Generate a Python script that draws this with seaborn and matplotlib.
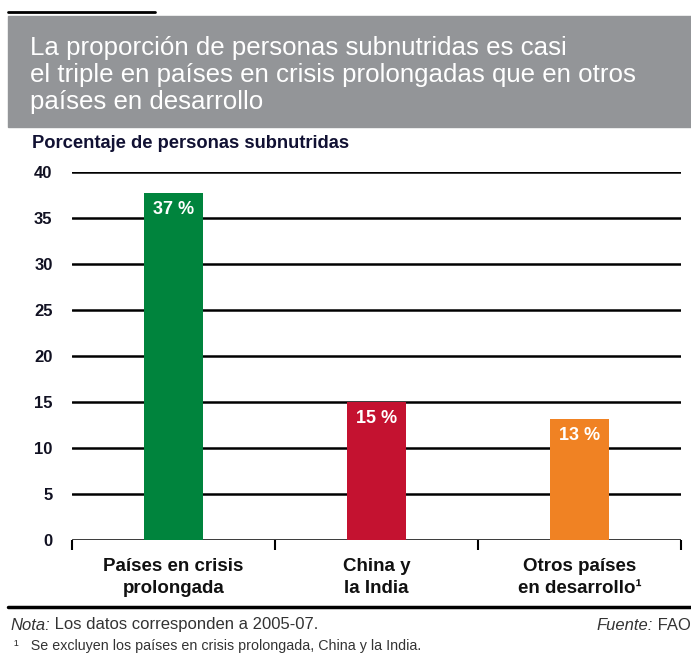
import matplotlib
matplotlib.use("Agg")
import matplotlib.pyplot as plt
from matplotlib import font_manager
import seaborn as sns
import pandas as pd

categories = ["Países en crisis\nprolongada", "China y\nla India", "Otros países\nen desarrollo¹"]
values = [37.7, 15.0, 13.2]
value_labels = ["37 %", "15 %", "13 %"]
colors = ["#00843D", "#C41230", "#F08223"]
yticks = [0, 5, 10, 15, 20, 25, 30, 35, 40]

title = ("La proporción de personas subnutridas es casi\n"
         "el triple en países en crisis prolongadas que en otros\n"
         "países en desarrollo")
ylabel = "Porcentaje de personas subnutridas"
note_label = "Nota:"
note_text = " Los datos corresponden a 2005-07."
source_label = "Fuente:"
source_text = " FAO"
footnote = "¹   Se excluyen los países en crisis prolongada, China y la India."

sns.set_theme(style="white")
names = {f.name for f in font_manager.fontManager.ttflist}
FONT = "Liberation Sans Narrow" if "Liberation Sans Narrow" in names else "Liberation Sans"
plt.rcParams["font.family"] = [FONT, "DejaVu Sans"]

W, H = 691, 656
fig = plt.figure(figsize=(W / 100, H / 100), dpi=100)

def fx(px):
    return px / W

def fy(py):
    return 1 - py / H

# top short rule and grey banner
fig.add_artist(plt.Line2D([fx(8), fx(155)], [fy(12), fy(12)], color="black", lw=2))
fig.add_artist(plt.Rectangle((fx(8), fy(127)), 1 - fx(8), fy(16) - fy(127),
                             color="#939598", transform=fig.transFigure, zorder=0))
fig.text(fx(30), fy(75), title, color="white", fontsize=18.6, va="center", ha="left",
         linespacing=1.15)

ax = fig.add_axes([fx(72), fy(540), fx(681) - fx(72), fy(172) - fy(540)])
df = pd.DataFrame({"cat": categories, "val": values})
sns.barplot(data=df, x="cat", y="val", hue="cat", palette=colors, width=0.286,
            saturation=1, legend=False, ax=ax, zorder=3, linewidth=0, edgecolor="none")
ax.set_xlim(-0.5, 2.5)
ax.set_ylim(0, 40)
ax.set_yticks(yticks)
ax.set_yticklabels([str(t) for t in yticks], fontsize=12, fontweight="bold", color="#111122")
ax.tick_params(axis="y", length=0, pad=14)
for t in yticks:
    ax.axhline(t, color="black", lw=1.8, zorder=1)
for s in ["left", "right", "top", "bottom"]:
    ax.spines[s].set_visible(False)
ax.set_xticks([0, 1, 2])
ax.set_xticklabels(categories, fontsize=13.5, fontweight="bold", color="#111111", linespacing=1.4)
ax.tick_params(axis="x", which="major", length=0, pad=13)
ax.set_xticks([-0.5, 0.5, 1.5, 2.5], minor=True)
ax.tick_params(axis="x", which="minor", bottom=True, length=7, width=1.5, color="black",
               direction="out")
ax.set_xlabel("")
ax.set_ylabel("")

for i, (v, lab) in enumerate(zip(values, value_labels)):
    ax.annotate(lab, (i, v), xytext=(0, -6), textcoords="offset points",
                ha="center", va="top", color="white", fontsize=13, fontweight="bold", zorder=5)

fig.text(fx(32), fy(143), ylabel, fontsize=13.2, fontweight="bold", color="#111133",
         ha="left", va="center")

# bottom rule and notes
fig.add_artist(plt.Line2D([fx(8), 1], [fy(607), fy(607)], color="black", lw=2.5))
t1 = fig.text(fx(10), fy(625), note_label, fontsize=12, style="italic", color="#333333",
              ha="left", va="center")
fig.canvas.draw()
bb = t1.get_window_extent()
fig.text(bb.x1 / W, fy(625), note_text, fontsize=12, color="#333333", ha="left", va="center")
t2 = fig.text(1.0, fy(625), source_text, fontsize=12, color="#333333", ha="right", va="center")
fig.canvas.draw()
bb2 = t2.get_window_extent()
fig.text(bb2.x0 / W, fy(625), source_label, fontsize=12, style="italic", color="#333333",
         ha="right", va="center")
fig.text(fx(14), fy(646), footnote, fontsize=10.3, color="#333333", ha="left", va="center")

fig.savefig("out.png", dpi=100)
